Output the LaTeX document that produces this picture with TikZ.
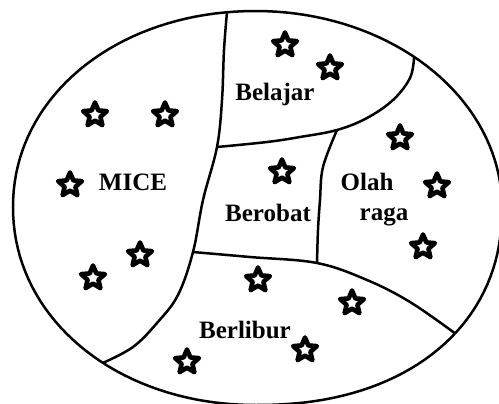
\documentclass[tikz,border=0pt]{standalone}
\usepackage{fontspec}
\setmainfont{Liberation Serif}
\usepackage{tikz}
\usetikzlibrary{shapes.geometric}

\begin{document}
\begin{tikzpicture}[
  x=0.5pt, y=-0.5pt,
  border/.style={line width=1.25pt, line join=round},
  lbl/.style={font=\bfseries\fontsize{12.5}{14}\selectfont, inner sep=0pt, anchor=base},
  starnode/.style={star, star points=5, star point ratio=2.2, draw,
                   line width=2.3pt, line join=round, minimum size=12.5pt,
                   inner sep=0pt}
]
  \useasboundingbox (0,0) rectangle (499,403);

  \draw[border]
    plot[domain=0:90, samples=40]
      ({256+246*max(abs(cos(\x)),0.0001)^(2/2.2)}, {207+198*max(abs(sin(\x)),0.0001)^(2/2.2)})
    -- plot[domain=90:180, samples=40]
      ({256-243*max(abs(cos(\x)),0.0001)^(2/2.05)}, {207+198*max(abs(sin(\x)),0.0001)^(2/2.05)})
    -- plot[domain=180:270, samples=40]
      ({256-243*max(abs(cos(\x)),0.0001)^(2/2.05)}, {207-196*max(abs(sin(\x)),0.0001)^(2/2.05)})
    -- plot[domain=270:360, samples=40]
      ({256+246*cos(\x)}, {207+196*sin(\x)})
    -- cycle;

  \coordinate (top) at ({256-243*abs(cos(263.5))^(2/2.05)}, {207-196*abs(sin(263.5))^(2/2.05)});
  \coordinate (bl) at ({256+246*cos(310)}, {207+196*sin(310)});
  \coordinate (br) at ({256+246*cos(37.6)^(2/2.2)}, {207+198*sin(37.6)^(2/2.2)});
  \coordinate (mb) at ({256-243*abs(cos(128.5))^(2/2.05)}, {207+198*sin(128.5)^(2/2.05)});
  \coordinate (j1) at (217,147);
  \coordinate (j2) at (337,130);
  \coordinate (j3) at (193,252);
  \coordinate (j4) at (317,263);

  \draw[border] plot[smooth, tension=0.6] coordinates {
    (top) (224,50) (222,100) (j1) (203,200) (j3) (178,295) (157,323)
    (133,347) (mb)};
  \draw[border] plot[smooth, tension=0.6] coordinates {
    (j1) (267,142) (300,137) (j2) (367,118) (393,100) (410,78) (bl)};
  \draw[border] plot[smooth, tension=0.6] coordinates {
    (j2) (323,167) (320,200) (318,230) (j4)};
  \draw[border] plot[smooth, tension=0.6] coordinates {
    (j3) (250,257) (j4) (367,280) (410,302) (br)};

  \node[lbl] (belajar) at (275,100) {Belajar};
  \node[lbl] (mice) at (133,190) {MICE};
  \node[lbl] (berobat) at (268,221) {Berobat};
  \node[lbl] (olah) at (367,190) {Olah};
  \node[lbl] (raga) at (384,220) {raga};
  \node[lbl] (berlibur) at (245,338) {Berlibur};

  \foreach \px/\py [count=\i] in {285/45, 330/68, 95/115, 165/115, 70/185,
      282/172, 400/138, 437/186, 423/247, 140/255, 93/278, 258/280,
      352/303, 187/362, 305/350}
    \node[starnode] (star\i) at (\px,\py) {};
\end{tikzpicture}
\end{document}
